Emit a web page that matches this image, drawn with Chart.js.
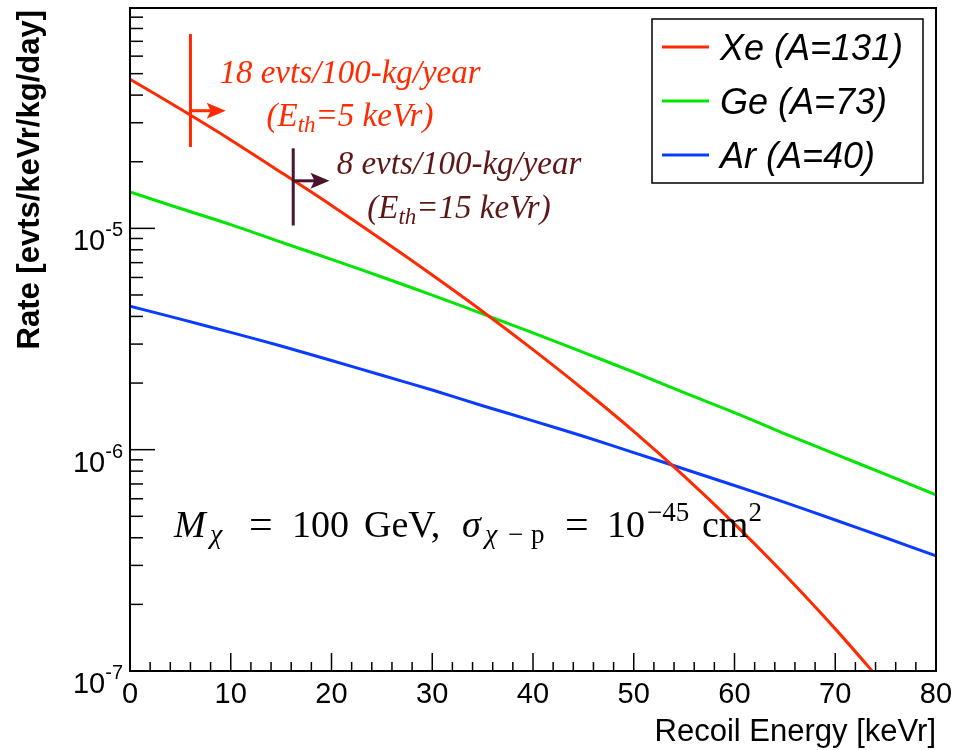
<!DOCTYPE html>
<html>
<head>
<meta charset="utf-8">
<script src="https://cdn.jsdelivr.net/npm/chart.js@4.4.0/dist/chart.umd.min.js"></script>
<style>
body { margin:0; background:#fff; }
#wrap { width:955px; height:750px; }
</style>
</head>
<body>
<div id="wrap"><canvas id="c" width="955" height="750"></canvas></div>
<script>
// recoil energy [keVr]
var energies = [0, 5, 10, 15, 20, 25, 30, 35, 40, 45, 50, 55, 60, 65, 70, 75, 80];
// rates [evts/keVr/kg/day]
var xeRate = [4.72e-5, 3.46e-5, 2.51e-5, 1.79e-5, 1.27e-5, 8.89e-6, 6.15e-6, 4.21e-6, 2.83e-6,
              1.87e-6, 1.21e-6, 7.59e-7, 4.62e-7, 2.72e-7, 1.55e-7, 8.51e-8, null];
var geRate = [1.46e-5, 1.23e-5, 1.04e-5, 8.67e-6, 7.24e-6, 6.03e-6, 4.99e-6, 4.11e-6, 3.37e-6,
              2.75e-6, 2.24e-6, 1.81e-6, 1.47e-6, 1.18e-6, 9.55e-7, 7.73e-7, 6.25e-7];
var arRate = [4.45e-6, 3.89e-6, 3.39e-6, 2.94e-6, 2.53e-6, 2.17e-6, 1.86e-6, 1.58e-6, 1.35e-6,
              1.15e-6, 9.70e-7, 8.18e-7, 6.89e-7, 5.78e-7, 4.81e-7, 4.00e-7, 3.31e-7];
var seriesNames = ['Xe (A=131)', 'Ge (A=73)', 'Ar (A=40)'];
var seriesColors = ['#ff2a00', '#00e600', '#0a3cff'];
var xTickLabels = [0, 10, 20, 30, 40, 50, 60, 70, 80];
var yDecades = [-7, -6, -5];

// threshold markers: energy, top and bottom of bar, rate at arrow
var thrEnergy = [6, 16.2];
var thrTop = [7.55e-5, 2.30e-5];
var thrBottom = [2.33e-5, 1.03e-5];
var thrRate = [3.40e-5, 1.64e-5];
var thrArrowEnd = [9.5, 19.8];
var thrColor = ['#ff2a00', '#4a1430'];
var thrTextColor = ['#ff2a00', '#5e1616'];
var thrLine1 = ['18 evts/100-kg/year', '8 evts/100-kg/year'];
var thrLine2 = ['5 keVr)', '15 keVr)'];

function toXY(vals) {
  var out = [];
  for (var i = 0; i < energies.length; i++) {
    if (vals[i] !== null) out.push({x: energies[i], y: vals[i]});
  }
  return out;
}

var sans = '"Liberation Sans", Arial, sans-serif';
var serif = '"Liberation Serif", "Times New Roman", serif';

function drawRuns(ctx, x, y, runs) {
  // runs: [text, font, dy]
  for (var i = 0; i < runs.length; i++) {
    ctx.font = runs[i][1];
    ctx.fillText(runs[i][0], x, y + (runs[i][2] || 0));
    x += ctx.measureText(runs[i][0]).width;
  }
  return x;
}

var rootFrame = {
  id: 'rootFrame',
  afterDraw: function(chart) {
    var ctx = chart.ctx;
    var a = chart.chartArea;
    var xs = chart.scales.x, ys = chart.scales.y;
    ctx.save();
    ctx.strokeStyle = '#000';
    ctx.fillStyle = '#000';
    ctx.lineWidth = 2;
    ctx.strokeRect(a.left, a.top, a.right - a.left, a.bottom - a.top);

    // x ticks
    ctx.lineWidth = 1.5;
    for (var v = 0; v <= 80; v += 2) {
      var px = xs.getPixelForValue(v);
      var len = (v % 10 === 0) ? 18 : 9;
      ctx.beginPath(); ctx.moveTo(px, a.bottom); ctx.lineTo(px, a.bottom - len); ctx.stroke();
    }
    // y ticks
    for (var d = -7; d <= -5; d++) {
      for (var m = 1; m <= 9; m++) {
        var val = m * Math.pow(10, d);
        if (val > ys.max) continue;
        var py = ys.getPixelForValue(val);
        var l2 = (m === 1) ? 25 : 13;
        ctx.beginPath(); ctx.moveTo(a.left, py); ctx.lineTo(a.left + l2, py); ctx.stroke();
      }
    }

    // x labels
    ctx.font = '29px ' + sans;
    ctx.textAlign = 'center';
    ctx.textBaseline = 'alphabetic';
    xTickLabels.forEach(function(t) {
      ctx.fillText(String(t), xs.getPixelForValue(t), a.bottom + 32);
    });

    // y labels with superscript
    yDecades.forEach(function(d) {
      var py = ys.getPixelForValue(Math.pow(10, d));
      ctx.textAlign = 'left';
      ctx.font = '20px ' + sans;
      var sup = String(d);
      var wSup = ctx.measureText(sup).width;
      ctx.font = '29px ' + sans;
      var wTen = ctx.measureText('10').width;
      var x0 = a.left - 7 - wSup - wTen;
      ctx.fillText('10', x0, py + 22);
      ctx.font = '20px ' + sans;
      ctx.fillText(sup, x0 + wTen, py + 8);
    });

    // axis titles
    ctx.font = '31px ' + sans;
    ctx.textAlign = 'right';
    ctx.fillText('Recoil Energy [keVr]', a.right, 741);

    ctx.save();
    ctx.translate(39, 10);
    ctx.rotate(-Math.PI / 2);
    ctx.font = 'bold 31px ' + sans;
    ctx.textAlign = 'right';
    ctx.fillText('Rate [evts/keVr/kg/day]', 0, 0);
    ctx.restore();
    ctx.restore();
  }
};

var notes = {
  id: 'notes',
  afterDatasetsDraw: function(chart) {
    var ctx = chart.ctx;
    var xs = chart.scales.x, ys = chart.scales.y;
    ctx.save();

    // threshold markers and arrows
    for (var i = 0; i < thrEnergy.length; i++) {
      var px = xs.getPixelForValue(thrEnergy[i]);
      var pe = xs.getPixelForValue(thrArrowEnd[i]);
      var py = ys.getPixelForValue(thrRate[i]);
      ctx.strokeStyle = thrColor[i];
      ctx.fillStyle = thrColor[i];
      ctx.lineWidth = 3;
      ctx.beginPath();
      ctx.moveTo(px, ys.getPixelForValue(thrTop[i]));
      ctx.lineTo(px, ys.getPixelForValue(thrBottom[i]));
      ctx.stroke();
      ctx.beginPath();
      ctx.moveTo(px, py); ctx.lineTo(pe - 10, py); ctx.stroke();
      ctx.beginPath();
      ctx.moveTo(pe, py); ctx.lineTo(pe - 19, py - 8); ctx.lineTo(pe - 15, py); ctx.lineTo(pe - 19, py + 8);
      ctx.closePath(); ctx.fill();
    }

    // threshold texts
    var tx = [350, 459];
    var ty1 = [83, 174];
    var ty2 = [126, 218];
    for (var k = 0; k < 2; k++) {
      ctx.fillStyle = thrTextColor[k];
      ctx.textAlign = 'center';
      ctx.font = 'italic 33px ' + serif;
      ctx.fillText(thrLine1[k], tx[k], ty1[k]);
      ctx.textAlign = 'left';
      var big = 'italic 33px ' + serif, small = 'italic 23px ' + serif;
      var runs = [['(E', big, 0], ['th', small, 6], ['=' + thrLine2[k], big, 0]];
      var w = 0;
      runs.forEach(function(r) { ctx.font = r[1]; w += ctx.measureText(r[0]).width; });
      drawRuns(ctx, tx[k] - w / 2, ty2[k], runs);
    }

    // formula, pieces placed as in the original TeX layout
    ctx.fillStyle = '#000';
    ctx.textAlign = 'left';
    var fb = '38px ' + serif, fi = 'italic 38px ' + serif, feq = '42px ' + serif;
    var sb = '27px ' + serif, si = 'italic 28px ' + serif;
    var by = 537;
    drawRuns(ctx, 174, by, [['M', fi, 0]]);
    drawRuns(ctx, 210, by, [['\u03c7', si, 6]]);
    drawRuns(ctx, 249, by, [['=', feq, 1]]);
    drawRuns(ctx, 292, by, [['100', fb, 0]]);
    drawRuns(ctx, 364, by, [['GeV,', fb, 0]]);
    drawRuns(ctx, 462, by, [['\u03c3', fi, 0]]);
    drawRuns(ctx, 485, by, [['\u03c7', si, 6]]);
    drawRuns(ctx, 508, by, [['\u2212', sb, 6]]);
    drawRuns(ctx, 531, by, [['p', sb, 6]]);
    drawRuns(ctx, 565, by, [['=', feq, 1]]);
    drawRuns(ctx, 607, by, [['10', fb, 0]]);
    drawRuns(ctx, 647, by, [['\u221245', sb, -16]]);
    drawRuns(ctx, 702, by, [['cm', fb, 0], ['2', sb, -16]]);

    // legend
    ctx.strokeStyle = '#000';
    ctx.lineWidth = 1.5;
    ctx.strokeRect(652, 19, 271, 164);
    ctx.font = 'italic 36px ' + sans;
    ctx.textAlign = 'left';
    var ly = [47, 101, 155];
    chart.data.datasets.forEach(function(ds, j) {
      ctx.strokeStyle = ds.borderColor;
      ctx.lineWidth = 3;
      ctx.beginPath(); ctx.moveTo(662, ly[j]); ctx.lineTo(709, ly[j]); ctx.stroke();
      ctx.fillStyle = '#000';
      ctx.fillText(ds.label, 720, ly[j] + 13);
    });
    ctx.restore();
  }
};

new Chart(document.getElementById('c'), {
  type: 'line',
  data: {
    datasets: [
      {label: seriesNames[0], data: toXY(xeRate), borderColor: seriesColors[0]},
      {label: seriesNames[1], data: toXY(geRate), borderColor: seriesColors[1]},
      {label: seriesNames[2], data: toXY(arRate), borderColor: seriesColors[2]}
    ]
  },
  options: {
    responsive: false,
    animation: false,
    devicePixelRatio: 1,
    layout: {padding: {left: 130, right: 19, top: 8, bottom: 79}},
    elements: {
      point: {radius: 0},
      line: {borderWidth: 3, tension: 0.3, fill: false}
    },
    datasets: {line: {clip: 0}},
    plugins: {legend: {display: false}, tooltip: {enabled: false}},
    scales: {
      x: {type: 'linear', min: 0, max: 80, display: false},
      y: {type: 'logarithmic', min: 1e-7, max: 0.99e-4, display: false}
    }
  },
  plugins: [rootFrame, notes]
});
</script>
</body>
</html>
